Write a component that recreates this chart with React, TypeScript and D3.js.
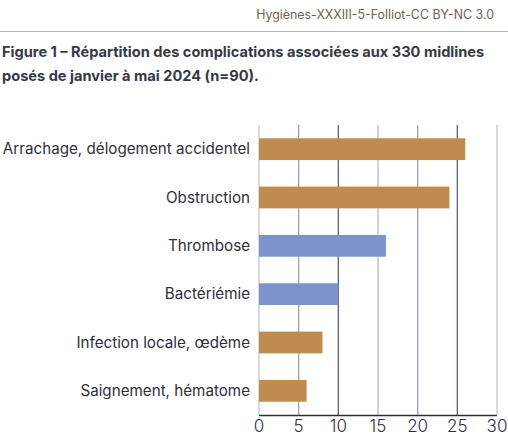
import React from "react";
import * as d3 from "d3";

const categories = [
  "Arrachage, délogement accidentel",
  "Obstruction",
  "Thrombose",
  "Bactériémie",
  "Infection locale, œdème",
  "Saignement, hématome",
];
const values = [26, 24, 16, 10, 8, 6];
const groups = ["a", "a", "b", "b", "a", "a"];
const ticks = [0, 5, 10, 15, 20, 25, 30];
const gridColors = ["#c4c4cc", "#9fa0ac", "#5d6078", "#b8b9c2", "#9fa0ac", "#5d6078", "#c4c4cc"];

const W = 508;
const H = 437;

export default function App() {
  const x = d3.scaleLinear().domain([0, 30]).range([259, 497]);
  const y = d3
    .scaleBand<string>()
    .domain(categories)
    .range([125, 415])
    .paddingInner(0.55)
    .paddingOuter(0.275);
  const color = (g: string) => (g === "a" ? "#bf8b4f" : "#7b95cb");
  const font = "Inter, 'Noto Sans', sans-serif";
  return (
    <svg
      width={W}
      height={H}
      style={{ position: "absolute", left: 0, top: 0, background: "#fff" }}
      fontFamily={font}
    >
      <text x={494} y={19} textAnchor="end" fontSize={12.4} fill="#6e6250" fontWeight={400}>
        Hygiènes-XXXIII-5-Folliot-CC BY-NC 3.0
      </text>
      <line x1={0} x2={W} y1={31.5} y2={31.5} stroke="#b4b4b4" strokeWidth={1.2} />
      <text x={2} y={57} fontSize={14.6} fontWeight={700} fill="#343945">
        Figure 1 – Répartition des complications associées aux 330 midlines
      </text>
      <text x={2} y={81} fontSize={14.6} fontWeight={700} fill="#343945">
        posés de janvier à mai 2024 (n=90).
      </text>
      {ticks.map((t, i) => (
        <line
          key={"g" + t}
          x1={x(t)}
          x2={x(t)}
          y1={125}
          y2={415}
          stroke={gridColors[i]}
          strokeWidth={1.3}
        />
      ))}
      {categories.map((c, i) => (
        <rect
          key={c}
          x={x(0)}
          y={y(c)}
          width={x(values[i]) - x(0)}
          height={y.bandwidth()}
          fill={color(groups[i])}
        />
      ))}
      <line x1={x(0)} x2={x(30)} y1={415.5} y2={415.5} stroke="#2d2f3a" strokeWidth={1.3} />
      {ticks.map((t) => (
        <text
          key={"t" + t}
          x={x(t)}
          y={432}
          textAnchor="middle"
          fontSize={17}
          fontWeight={300}
          fill="#2d2f3a"
        >
          {t}
        </text>
      ))}
      {categories.map((c) => (
        <text
          key={"l" + c}
          x={250}
          y={(y(c) as number) + y.bandwidth() / 2}
          dy="0.35em"
          textAnchor="end"
          fontSize={15.2}
          fill="#2d2f3a"
        >
          {c}
        </text>
      ))}
    </svg>
  );
}
